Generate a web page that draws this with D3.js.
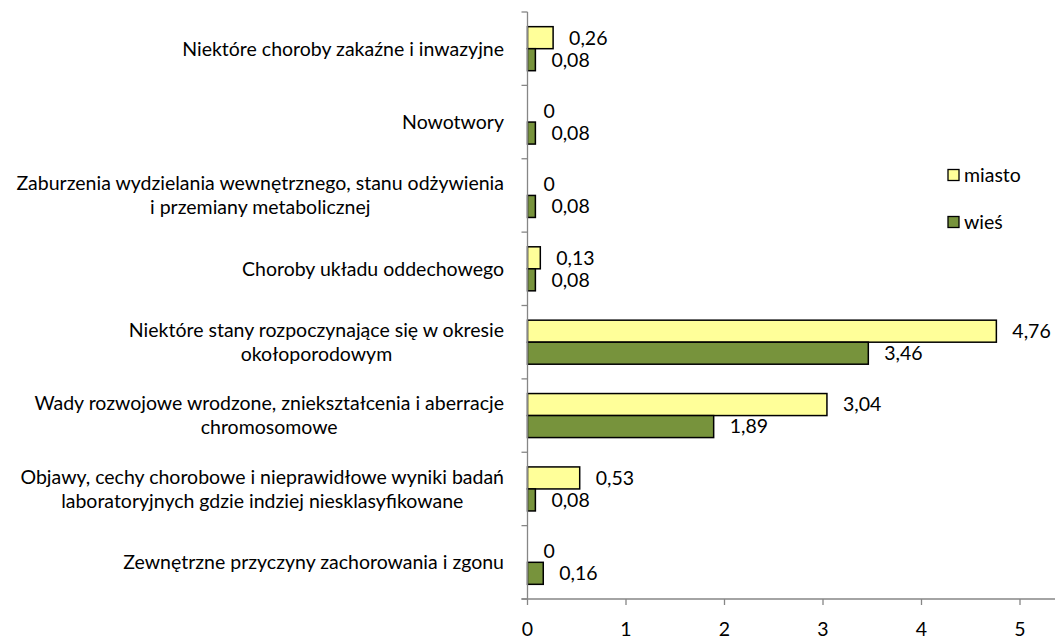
<!DOCTYPE html>
<html>
<head>
<meta charset="utf-8">
<script src="https://cdn.jsdelivr.net/npm/d3@7"></script>
<style>
  html, body { margin: 0; padding: 0; background: #fff; }
  svg { display: block; }
  text { font-family: Lato, "Open Sans", sans-serif; fill: #000; }
</style>
</head>
<body>
<svg id="chart" width="1055" height="642"></svg>
<script>
// Categories (each entry is the list of lines of the label)
const categories = [
  ["Niektóre choroby zakaźne i inwazyjne"],
  ["Nowotwory"],
  ["Zaburzenia wydzielania wewnętrznego, stanu odżywienia", "i przemiany metabolicznej"],
  ["Choroby układu oddechowego"],
  ["Niektóre stany rozpoczynające się w okresie", "okołoporodowym"],
  ["Wady rozwojowe wrodzone, zniekształcenia i aberracje", "chromosomowe"],
  ["Objawy, cechy chorobowe i nieprawidłowe wyniki badań", "laboratoryjnych gdzie indziej niesklasyfikowane"],
  ["Zewnętrzne przyczyny zachorowania i zgonu"]
];
const seriesNames = ["miasto", "wieś"];
const miasto = [0.26, 0, 0, 0.13, 4.76, 3.04, 0.53, 0];
const wies   = [0.08, 0.08, 0.08, 0.08, 3.46, 1.89, 0.08, 0.16];
const xTicks = [0, 1, 2, 3, 4, 5];
const colors = ["#FFFF99", "#77933C"];

const svg = d3.select("#chart");
const fontSize = 19.5;
const axisColor = "#868686";

const plot = { left: 527.5, top: 12, bottom: 599 };
const unitPx = 98.5;

const x = d3.scaleLinear().domain([0, 5.4]).range([plot.left, plot.left + 5.4 * unitPx]);
const y = d3.scaleBand().domain(d3.range(categories.length))
  .range([plot.top, plot.bottom]).paddingInner(0.4).paddingOuter(0.2);
const ySub = d3.scaleBand().domain(seriesNames).range([0, y.bandwidth()]);
const yCat = d3.scaleBand().domain(d3.range(categories.length)).range([plot.top, plot.bottom]);

const fmt = v => d3.format(".2~f")(v).replace(".", ",");

// Bars with value labels
const series = [miasto, wies];
series.forEach((vals, si) => {
  const g = svg.append("g");
  g.selectAll("rect").data(vals).join("rect")
    .attr("x", x(0))
    .attr("y", (d, i) => y(i) + ySub(seriesNames[si]))
    .attr("width", d => x(d) - x(0))
    .attr("height", ySub.bandwidth())
    .attr("fill", colors[si])
    .attr("stroke", "#000")
    .attr("stroke-width", 1.5)
    .attr("display", d => d > 0 ? null : "none");
  g.selectAll("text").data(vals).join("text")
    .attr("x", d => x(d) + 16)
    .attr("y", (d, i) => y(i) + ySub(seriesNames[si]) + ySub.bandwidth() / 2)
    .attr("dy", "0.35em")
    .attr("font-size", fontSize)
    .text(d => fmt(d));
});

// Vertical category axis
const yAxis = svg.append("g");
yAxis.append("line")
  .attr("x1", x(0)).attr("x2", x(0))
  .attr("y1", plot.top).attr("y2", plot.bottom)
  .attr("stroke", axisColor).attr("stroke-width", 1.3);
const bounds = d3.range(categories.length + 1).map(i => i < categories.length ? yCat(i) : plot.bottom);
yAxis.selectAll("line.tick").data(bounds).join("line")
  .attr("class", "tick")
  .attr("x1", x(0) - 6).attr("x2", x(0))
  .attr("y1", d => d).attr("y2", d => d)
  .attr("stroke", axisColor).attr("stroke-width", 1.3);

// Category labels: block right-aligned, lines centred inside it
const labelRight = 504;
const lineGap = 24;
categories.forEach((lines, i) => {
  const g = svg.append("g");
  const texts = lines.map(t => g.append("text").attr("font-size", fontSize).text(t));
  const blockW = d3.max(texts, t => t.node().getComputedTextLength());
  const cy = yCat(i) + yCat.bandwidth() / 2;
  texts.forEach((t, li) => {
    t.attr("x", labelRight - blockW / 2)
     .attr("text-anchor", "middle")
     .attr("y", cy + (li - (lines.length - 1) / 2) * lineGap)
     .attr("dy", "0.35em");
  });
});

// Horizontal value axis
const xAxisG = svg.append("g").attr("transform", `translate(0,${plot.bottom})`);
xAxisG.append("line")
  .attr("x1", x(0) - 6).attr("x2", 1055)
  .attr("stroke", axisColor).attr("stroke-width", 1.3);
xAxisG.selectAll("line.tick").data(xTicks).join("line")
  .attr("class", "tick")
  .attr("x1", d => x(d)).attr("x2", d => x(d))
  .attr("y1", 0).attr("y2", 6)
  .attr("stroke", axisColor).attr("stroke-width", 1.3);
xAxisG.selectAll("text").data(xTicks).join("text")
  .attr("x", d => x(d))
  .attr("y", 37)
  .attr("text-anchor", "middle")
  .attr("font-size", fontSize)
  .text(d => d);

// Legend
const legend = svg.append("g");
const legendY = [175, 222];
seriesNames.forEach((name, i) => {
  legend.append("rect")
    .attr("x", 948).attr("y", legendY[i] - 5.5)
    .attr("width", 11).attr("height", 11)
    .attr("fill", colors[i]).attr("stroke", "#000").attr("stroke-width", 1.3);
  legend.append("text")
    .attr("x", 964).attr("y", legendY[i]).attr("dy", "0.35em")
    .attr("font-size", fontSize)
    .text(name);
});
</script>
</body>
</html>
